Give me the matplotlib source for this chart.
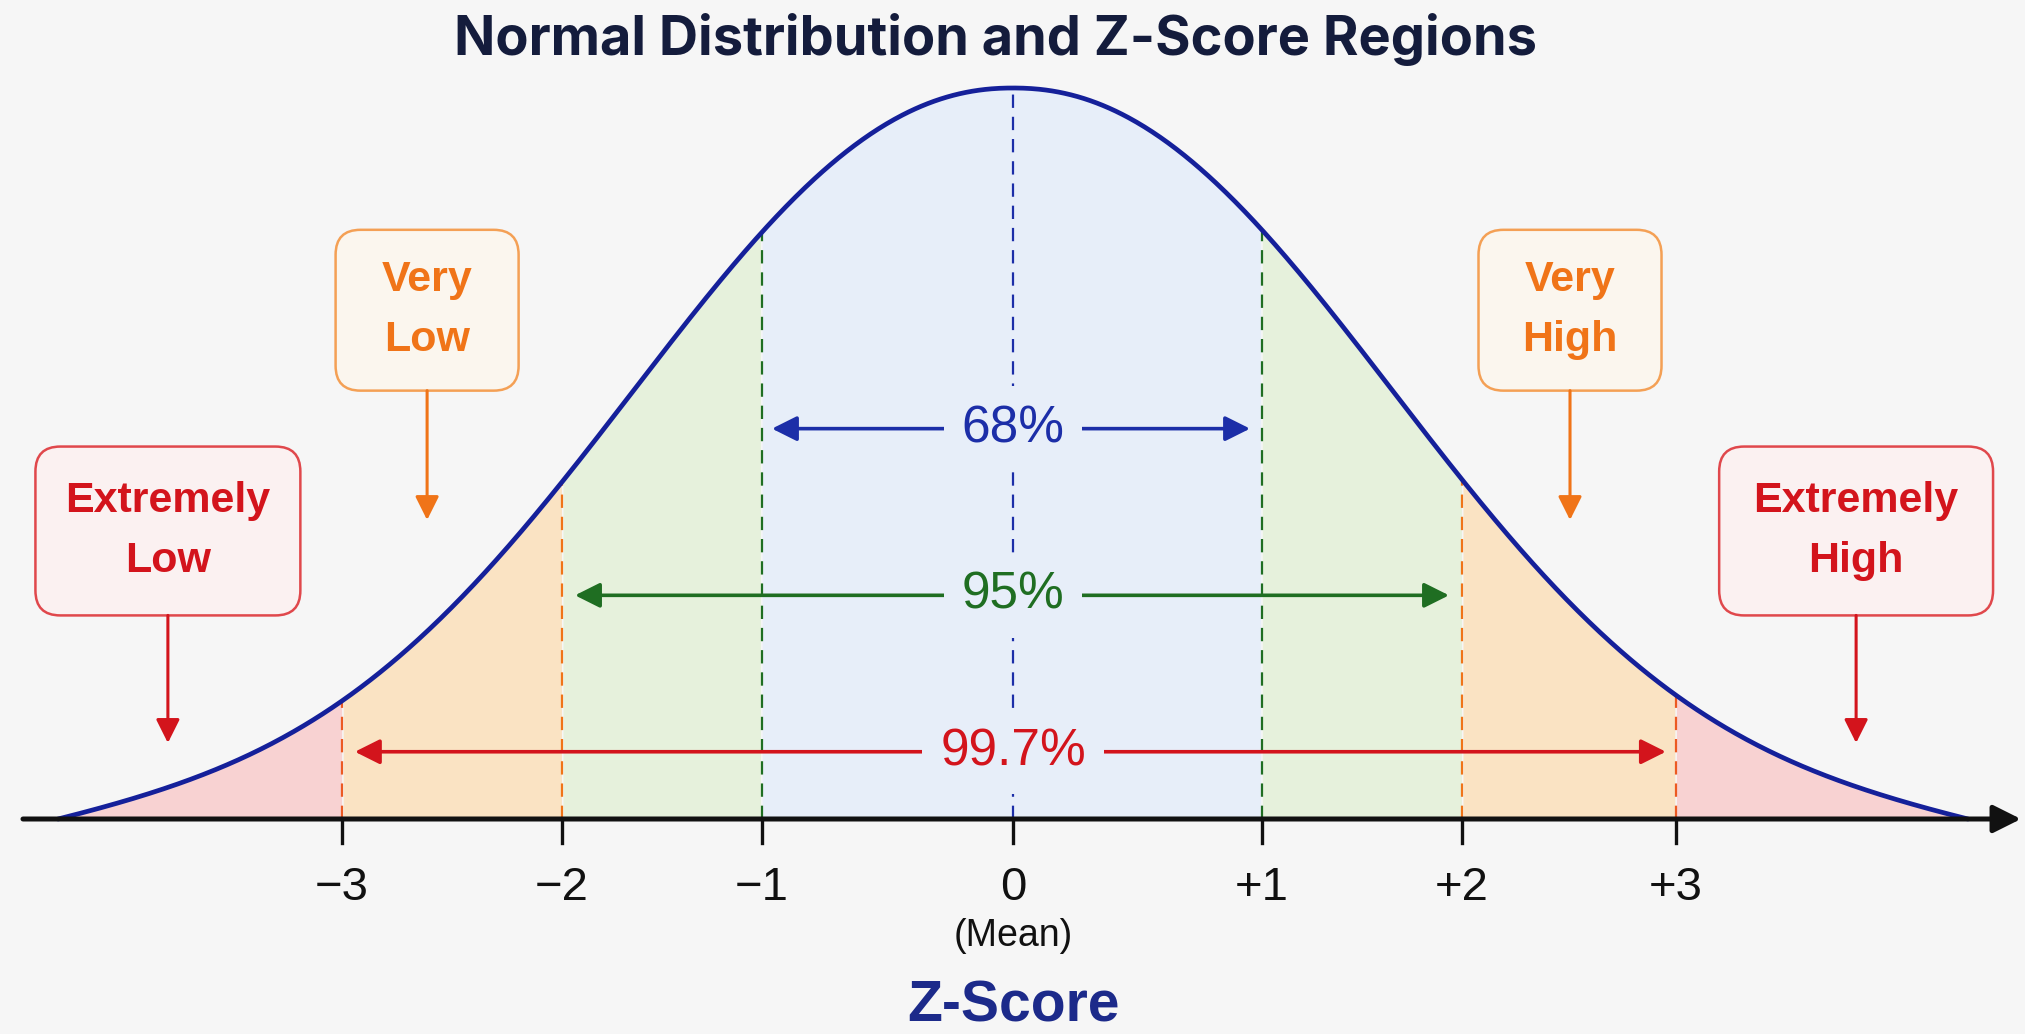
import numpy as np
import matplotlib
matplotlib.use("Agg")
import matplotlib.pyplot as plt
from matplotlib import font_manager
from matplotlib.patches import FancyBboxPatch

# ---- chart content ----
z_labels = ["\u22123", "\u22122", "\u22121", "0", "+1", "+2", "+3"]
percent_labels = ["68%", "95%", "99.7%"]
region_labels = ["Extremely\nLow", "Very\nLow", "Very\nHigh", "Extremely\nHigh"]
title = "Normal Distribution and Z-Score Regions"
x_title = "Z-Score"

# ---- layout (x: one unit = distance from mean to +1 on the drawing) ----
tick_pos = [-2.695, -1.811, -1.008, 0.0, 1.0, 1.803, 2.663]
curve_scale = 2.04
curve_power = 2.15
curve_end = 3.835
pct_y = [0.534, 0.306, 0.092]
pct_ends = [(-0.968, 0.952), (-1.759, 1.751), (-2.643, 2.622)]
box_centers = [(-3.394, 0.394), (-2.353, 0.696), (2.237, 0.696), (3.386, 0.394)]
box_sizes = [(1.064, 0.231), (0.735, 0.220), (0.735, 0.220), (1.10, 0.231)]
arrow_tips = [0.104, 0.409, 0.409, 0.104]

BG = "#f6f6f6"
NAVY = "#15209a"
RED = "#d3141c"
ORANGE = "#f07418"
GREEN = "#1f6e22"
BLUE = "#1c2ea8"
fill_red = "#f8d2d2"
fill_orange = "#fae3c3"
fill_green = "#e6f1dc"
fill_blue = "#e7eef9"

available = {f.name for f in font_manager.fontManager.ttflist}
narrow = "Liberation Sans Narrow" if "Liberation Sans Narrow" in available else "Liberation Sans"
title_font = "Inter" if "Inter" in available else "DejaVu Sans"


def curve(x):
    # bell shape, tapered so it meets the axis at the ends
    y = np.exp(-np.abs(x / curve_scale) ** curve_power)
    y = y * (1 - np.abs(x / curve_end) ** 16)
    return np.clip(y, 0, None)


W, H = 2025, 1034
fig = plt.figure(figsize=(W / 100, H / 100), dpi=100, facecolor=BG)
ax = fig.add_axes([0, 0, 1, 1])
ax.set_facecolor(BG)
px_x, px_y, cx, base = 249.0, 731.0, 1013.0, 819.0
ax.set_xlim(-cx / px_x, (W - cx) / px_x)
ax.set_ylim((base - H) / px_y, base / px_y)
ax.axis("off")

# shaded regions
xs = np.linspace(-curve_end, curve_end, 1200)
ys = curve(xs)
edges = [-curve_end] + tick_pos[:3] + tick_pos[4:] + [curve_end]
fills = [fill_red, fill_orange, fill_green, fill_blue, fill_green, fill_orange, fill_red]
for i, col in enumerate(fills):
    m = (xs >= edges[i]) & (xs <= edges[i + 1])
    ax.fill_between(xs[m], 0, ys[m], color=col, lw=0, zorder=1)

# dashed boundaries
line_cols = ["#ec5a22", ORANGE, GREEN, BLUE, GREEN, ORANGE, "#ec5a22"]
for p, col in zip(tick_pos, line_cols):
    ax.plot([p, p], [0, curve(p)], color=col, lw=1.6, ls=(0, (6, 4)), zorder=2)

ax.plot(xs, ys, color=NAVY, lw=3.4, zorder=4, solid_capstyle="round")

# baseline axis with arrow
ax.annotate("", xy=(4.048, 0), xytext=(-3.976, 0),
            arrowprops=dict(arrowstyle="-|>", color="#111111", lw=3.6,
                            mutation_scale=42, shrinkA=0, shrinkB=0),
            zorder=5)
for p, lab in zip(tick_pos, z_labels):
    ax.plot([p, p], [0, -0.033], color="#111111", lw=2.4, zorder=5)
    ax.text(p, -0.094, lab, ha="center", va="center", fontsize=34,
            family=narrow, color="#111111")
ax.text(0, -0.160, "(Mean)", ha="center", va="center", fontsize=27,
        family=narrow, color="#111111")
ax.text(0, -0.257, x_title, ha="center", va="center", fontsize=41,
        family=narrow, fontweight="bold", color="#1c2a8a")

# percentage ranges
pct_cols = [BLUE, GREEN, RED]
for lab, y, (x0, x1), col in zip(percent_labels, pct_y, pct_ends, pct_cols):
    ax.annotate("", xy=(x0, y), xytext=(x1, y),
                arrowprops=dict(arrowstyle="<|-|>", color=col, lw=2.6,
                                mutation_scale=38, shrinkA=0, shrinkB=0),
                zorder=6)
    ax.text(0, y, lab, ha="center", va="center", fontsize=37, family=narrow,
            color=col, zorder=7,
            bbox=dict(boxstyle="square,pad=0.35", fc=fill_blue, ec="none"))

# region label boxes
box_cols = [RED, ORANGE, ORANGE, RED]
box_edges = ["#e0484c", "#f4a055", "#f4a055", "#e0484c"]
box_faces = ["#fbf1f1", "#fbf6ee", "#fbf6ee", "#fbf1f1"]
for lab, (bx, by), (bw, bh), tip, col, ec, fc in zip(
        region_labels, box_centers, box_sizes, arrow_tips, box_cols, box_edges, box_faces):
    ax.add_patch(FancyBboxPatch((bx - bw / 2, by - bh / 2), bw, bh,
                                boxstyle="round,pad=0,rounding_size=0.1",
                                mutation_aspect=px_x / px_y,
                                fc=fc, ec=ec, lw=1.8, zorder=6))
    ax.text(bx, by, lab, ha="center", va="center", fontsize=31, family=narrow,
            fontweight="bold", color=col, linespacing=1.65, zorder=7)
    ax.annotate("", xy=(bx, tip), xytext=(bx, by - bh / 2),
                arrowprops=dict(arrowstyle="-|>", color=col, lw=2.2,
                                mutation_scale=36, shrinkA=0, shrinkB=0),
                zorder=6)

ax.text(-0.07, 1.067, title, ha="center", va="center", fontsize=39,
        family=title_font, fontweight="bold", color="#141c3c")

fig.savefig("out.png", dpi=100, facecolor=BG)
